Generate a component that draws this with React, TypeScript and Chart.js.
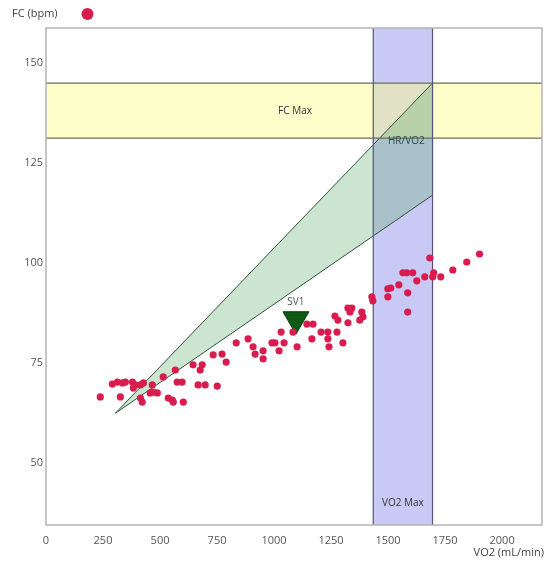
import React, { useEffect, useRef } from 'react';
import { Chart, registerables } from 'chart.js';

Chart.register(...registerables);

// VO2 (mL/min) and heart rate (bpm) of the measured points
const vo2Values = [
  238, 291, 313, 335, 348, 326, 379, 392, 383, 414, 427, 466, 470, 414, 422, 457, 488, 514, 567, 575,
  597, 536, 554, 558, 602, 645, 685, 676, 667, 698, 733, 772, 790, 751, 834, 886, 908, 917, 952, 952,
  991, 1004, 1022, 1044, 1031, 1083, 1101, 1144, 1171, 1166, 1206, 1236, 1236, 1241, 1267, 1276, 1302,
  1280, 1324, 1333, 1341, 1385, 1390, 1376, 1324, 1429, 1433, 1499, 1499, 1512, 1547, 1586, 1586, 1565,
  1582, 1608, 1626, 1661, 1683, 1700, 1696, 1731, 1784, 1845, 1901,
];
const hrValues = [
  66.6, 69.8, 70.3, 70.1, 70.3, 66.6, 70.3, 69.6, 68.8, 69.6, 70.1, 69.6, 67.8, 66.3, 65.3, 67.6, 67.6, 71.6, 73.3, 70.3,
  70.3, 66.3, 65.8, 65.3, 65.3, 74.6, 74.6, 73.3, 69.6, 69.6, 77.1, 77.3, 75.3, 69.3, 80.1, 81.1, 79.1, 77.3, 78.1, 76.1,
  80.1, 80.1, 78.1, 80.1, 82.8, 82.8, 79.1, 84.8, 84.8, 81.1, 82.8, 82.8, 81.1, 79.1, 86.8, 82.8, 80.1,
  85.8, 88.8, 87.8, 88.8, 87.8, 86.6, 85.8, 85.1, 91.6, 90.6, 91.6, 93.6, 93.8, 94.6, 92.6, 87.8, 97.6,
  97.6, 97.6, 95.6, 96.6, 101.3, 97.6, 96.6, 96.6, 98.3, 100.3, 102.3,
];

// Zones
const fcMaxBand = [131.25, 145]; // bpm
const vo2MaxBand = [1435, 1695]; // mL/min
const hrVo2Triangle = [
  { x: 304, y: 62.5 },
  { x: 1695, y: 145 },
  { x: 1695, y: 117 },
];
const sv1Point = { x: 1096, y: 86 };

// Axes
const xTicks = [0, 250, 500, 750, 1000, 1250, 1500, 1750, 2000];
const yTicks = [50, 75, 100, 125, 150];
const xRange = [0, 2175];
const yRange = [34.6, 158.75];

// Labels
const labels = [
  { text: 'FC Max', x: 1092, y: 138.1, color: '#333333' },
  { text: 'HR/VO2', x: 1580, y: 130.4, color: '#2a4848' },
  { text: 'VO2 Max', x: 1565, y: 40.1, color: '#333333' },
  { text: 'SV1', x: 1096, y: 90.3, color: '#555555' },
];
const yTitle = 'FC (bpm)';
const xTitle = 'VO2 (mL/min)';

const FONT = '"Open Sans", "Noto Sans", sans-serif';

const overlayPlugin = {
  id: 'overlays',
  beforeDatasetsDraw(chart: any) {
    const { ctx, chartArea: a, scales } = chart;
    const x = scales.x;
    const y = scales.y;
    ctx.save();
    ctx.beginPath();
    ctx.rect(a.left, a.top, a.right - a.left, a.bottom - a.top);
    ctx.clip();
    // blue VO2 max band
    const bx1 = x.getPixelForValue(vo2MaxBand[0]);
    const bx2 = x.getPixelForValue(vo2MaxBand[1]);
    ctx.fillStyle = 'rgb(201,201,246)';
    ctx.fillRect(bx1, a.top, bx2 - bx1, a.bottom - a.top);
    // yellow FC max band
    const yy1 = y.getPixelForValue(fcMaxBand[1]);
    const yy2 = y.getPixelForValue(fcMaxBand[0]);
    ctx.fillStyle = 'rgba(255,255,140,0.45)';
    ctx.fillRect(a.left, yy1, a.right - a.left, yy2 - yy1);
    // triangle
    ctx.beginPath();
    hrVo2Triangle.forEach((p, i) => {
      const px = x.getPixelForValue(p.x);
      const py = y.getPixelForValue(p.y);
      if (i === 0) ctx.moveTo(px, py);
      else ctx.lineTo(px, py);
    });
    ctx.closePath();
    ctx.fillStyle = 'rgba(110,180,120,0.35)';
    ctx.fill();
    ctx.strokeStyle = '#33503f';
    ctx.lineWidth = 1;
    ctx.stroke();
    // band edges
    ctx.strokeStyle = '#6e6e52';
    ctx.lineWidth = 1.2;
    ctx.beginPath();
    ctx.moveTo(a.left, yy1);
    ctx.lineTo(a.right, yy1);
    ctx.moveTo(a.left, yy2);
    ctx.lineTo(a.right, yy2);
    ctx.stroke();
    ctx.strokeStyle = '#55557a';
    ctx.beginPath();
    ctx.moveTo(bx1, a.top);
    ctx.lineTo(bx1, a.bottom);
    ctx.moveTo(bx2, a.top);
    ctx.lineTo(bx2, a.bottom);
    ctx.stroke();
    ctx.restore();
  },
  afterDraw(chart: any) {
    const { ctx, chartArea: a, scales } = chart;
    const x = scales.x;
    const y = scales.y;
    ctx.save();
    // plot border
    ctx.strokeStyle = '#b4b4b4';
    ctx.lineWidth = 1.5;
    ctx.strokeRect(a.left, a.top, a.right - a.left, a.bottom - a.top);
    // zone labels
    ctx.font = `10px ${FONT}`;
    ctx.textAlign = 'center';
    ctx.textBaseline = 'middle';
    labels.forEach((l) => {
      ctx.fillStyle = l.color;
      ctx.fillText(l.text, x.getPixelForValue(l.x), y.getPixelForValue(l.y));
    });
    // titles
    ctx.font = `11px ${FONT}`;
    ctx.fillStyle = '#444444';
    ctx.textAlign = 'left';
    ctx.fillText(yTitle, 12, 14);
    ctx.beginPath();
    ctx.arc(87.5, 14, 6, 0, Math.PI * 2);
    ctx.fillStyle = '#d91c4b';
    ctx.fill();
    ctx.fillStyle = '#444444';
    ctx.textAlign = 'right';
    ctx.fillText(xTitle, 544, 553);
    ctx.restore();
  },
};

export default function App() {
  const ref = useRef<HTMLCanvasElement | null>(null);
  useEffect(() => {
    if (!ref.current) return;
    const points = vo2Values.map((v, i) => ({ x: v, y: hrValues[i] }));
    const chart = new Chart(ref.current, {
      type: 'scatter',
      data: {
        datasets: [
          {
            label: 'FC',
            data: points,
            backgroundColor: '#d81d4e',
            borderColor: '#d81d4e',
            borderWidth: 0,
            pointRadius: 3.6,
          },
          {
            label: 'SV1',
            data: [sv1Point],
            pointStyle: 'triangle',
            rotation: 180,
            pointRadius: 15,
            backgroundColor: '#0e5a16',
            borderColor: '#0a3d10',
            borderWidth: 1,
          },
        ],
      },
      options: {
        animation: false,
        responsive: false,
        maintainAspectRatio: false,
        layout: { autoPadding: false, padding: { top: 28, right: 2, left: 0, bottom: 0 } },
        plugins: { legend: { display: false }, tooltip: { enabled: false } },
        scales: {
          x: {
            type: 'linear',
            min: xRange[0],
            max: xRange[1],
            grid: { display: false, drawTicks: false },
            border: { display: false },
            afterBuildTicks: (s: any) => {
              s.ticks = xTicks.map((v) => ({ value: v }));
            },
            afterFit: (s: any) => {
              s.height = 36;
              s.paddingLeft = 0;
              s.paddingRight = 0;
            },
            ticks: {
              padding: 9,
              maxRotation: 0,
              autoSkip: false,
              color: '#555555',
              font: { family: FONT, size: 11 },
              callback: (v: any) => String(v),
            },
          },
          y: {
            type: 'linear',
            min: yRange[0],
            max: yRange[1],
            grid: { display: false, drawTicks: false },
            border: { display: false },
            afterBuildTicks: (s: any) => {
              s.ticks = yTicks.map((v) => ({ value: v }));
            },
            afterFit: (s: any) => {
              s.width = 46;
              s.paddingTop = 0;
              s.paddingBottom = 0;
            },
            ticks: {
              padding: 3,
              autoSkip: false,
              color: '#555555',
              font: { family: FONT, size: 11 },
              callback: (v: any) => String(v),
            },
          },
        },
      },
      plugins: [overlayPlugin],
    });
    return () => chart.destroy();
  }, []);
  return (
    <div style={{ position: 'fixed', left: 0, top: 0, width: 544, height: 561, background: '#fff' }}>
      <canvas ref={ref} width={544} height={561} style={{ width: 544, height: 561 }} />
    </div>
  );
}
